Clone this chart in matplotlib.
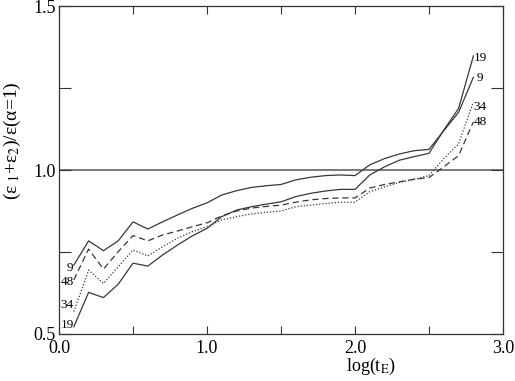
import matplotlib
matplotlib.use("Agg")
import matplotlib.pyplot as plt
import matplotlib.transforms as mtransforms

plt.rcParams['font.family'] = ['Liberation Serif', 'DejaVu Serif']
plt.rcParams['mathtext.fontset'] = 'stix'

# Data
log_t = [0.1, 0.2, 0.3, 0.4, 0.5, 0.6, 0.7, 0.8, 0.9, 1.0,
         1.1, 1.2, 1.3, 1.4, 1.5, 1.6, 1.7, 1.8, 1.9, 2.0,
         2.1, 2.2, 2.3, 2.4, 2.5, 2.6, 2.7, 2.8]

s9 = [0.710, 0.784, 0.754, 0.784, 0.842, 0.820, 0.842, 0.863, 0.883, 0.900,
      0.924, 0.937, 0.947, 0.952, 0.956, 0.970, 0.978, 0.983, 0.985, 0.983,
      1.016, 1.035, 1.049, 1.059, 1.063, 1.120, 1.176, 1.283]
s19 = [0.522, 0.627, 0.611, 0.652, 0.716, 0.707, 0.741, 0.771, 0.799, 0.822,
       0.858, 0.878, 0.888, 0.896, 0.903, 0.919, 0.929, 0.936, 0.941, 0.941,
       0.985, 1.010, 1.030, 1.041, 1.051, 1.122, 1.188, 1.348]
s48 = [0.665, 0.759, 0.698, 0.751, 0.800, 0.784, 0.802, 0.814, 0.827, 0.839,
       0.860, 0.875, 0.884, 0.889, 0.893, 0.902, 0.909, 0.913, 0.915, 0.915,
       0.945, 0.956, 0.964, 0.972, 0.977, 1.010, 1.044, 1.147]
s34 = [0.568, 0.695, 0.654, 0.705, 0.756, 0.738, 0.766, 0.792, 0.812, 0.827,
       0.848, 0.858, 0.866, 0.871, 0.875, 0.888, 0.893, 0.898, 0.902, 0.902,
       0.934, 0.949, 0.962, 0.972, 0.983, 1.035, 1.080, 1.208]

left_labels = ['9', '48', '34', '19']
left_label_y = [0.701, 0.659, 0.588, 0.527]
right_labels = ['19', '9', '34', '48']
right_label_y = [1.341, 1.280, 1.192, 1.146]

x_ticks = [0.0, 1.0, 2.0, 3.0]
x_tick_labels = ['0.0', '1.0', '2.0', '3.0']
x_minor = [0.5, 1.5, 2.5]
y_ticks = [0.5, 1.0, 1.5]
y_tick_labels = ['0.5', '1.0', '1.5']
y_minor = [0.75, 1.25]

fig = plt.figure(figsize=(5.15, 3.81), dpi=100)
ax = fig.add_axes([0.1146, 0.1234, 0.8621, 0.8606])

line_col = '#383838'
ax.axhline(1.0, color='#7a7a7a', lw=1.4, zorder=1)
ax.plot(log_t, s9, color=line_col, lw=0.9, ls='-')
ax.plot(log_t, s19, color=line_col, lw=0.9, ls='-')
ax.plot(log_t, s48, color=line_col, lw=0.9, ls=(0, (5, 3)))
ax.plot(log_t, s34, color=line_col, lw=0.9, ls=(0, (1, 1.5)))

for lab, yy in zip(left_labels, left_label_y):
    xx = 0.05 if lab == '9' else 0.01
    ax.text(xx, yy, lab, fontsize=9.5, ha='left', va='center', color='black')
for lab, yy in zip(right_labels, right_label_y):
    xx = 2.82 if lab == '9' else 2.80
    ax.text(xx, yy, lab, fontsize=9.5, ha='left', va='center', color='black')

ax.set_xlim(0.0, 3.0)
ax.set_ylim(0.5, 1.5)
ax.set_xticks(x_ticks)
ax.set_xticklabels(x_tick_labels)
ax.set_xticks(x_minor, minor=True)
ax.set_yticks(y_ticks)
ax.set_yticklabels(y_tick_labels)
ax.set_yticks(y_minor, minor=True)

ax.tick_params(axis='x', which='both', direction='in', length=5.8, width=0.8,
               top=True, bottom=True, labelsize=13, pad=4.5, color='#333333')
ax.tick_params(axis='y', which='both', direction='in', length=8.6, width=0.8,
               left=True, right=True, labelsize=13, pad=2.5, color='#333333')
for sp in ax.spines.values():
    sp.set_linewidth(0.9)
    sp.set_color('#333333')

# axis labels placed as in the reference
trans_x = mtransforms.blended_transform_factory(ax.transData, fig.transFigure)
ax.text(2.11, 1 - 366 / 381, 'log(t$_\\mathrm{E}$)', transform=trans_x,
        fontsize=13, ha='center', va='center')
trans_y = mtransforms.blended_transform_factory(fig.transFigure, ax.transData)
ax.text(12 / 515, 1.088, '(ε$_{\\ 1}$+ε$_2$)/ε(α=1)', transform=trans_y,
        fontsize=14, ha='center', va='center', rotation=90)

fig.savefig('out.png', dpi=100)
